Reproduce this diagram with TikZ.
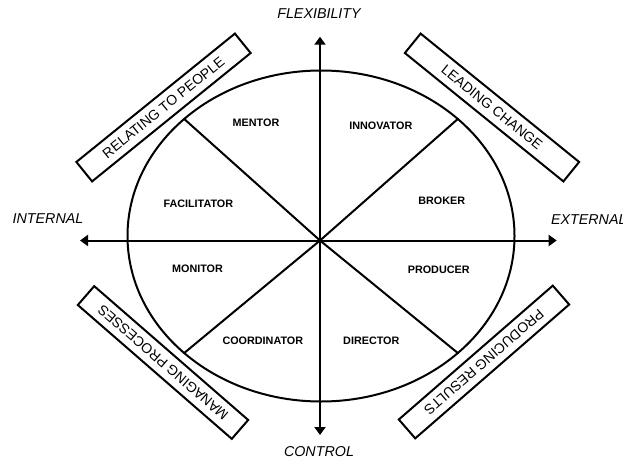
\documentclass[tikz,border=0pt]{standalone}
\usepackage{fontspec}
\setmainfont{Liberation Sans}
\usetikzlibrary{arrows.meta}

\begin{document}
\begin{tikzpicture}[x=1pt,y=1pt,line width=2pt,line cap=round]
	\tikzstyle{axis}=[-{Triangle[length=8pt,width=11pt]}];
	\tikzstyle{pole}=[font=\fontsize{14.3}{17}\selectfont\itshape,inner sep=0pt];
	\tikzstyle{role}=[font=\fontsize{10.8}{13}\selectfont\bfseries,inner sep=0pt];
	\tikzstyle{band}=[draw,line width=2pt,minimum width=204pt,minimum height=25pt,inner sep=0pt,font=\fontsize{14}{17}\selectfont];

	\useasboundingbox (0,0) rectangle (623,459);
	\coordinate (O) at (320,218.5);
	\coordinate (E) at (321,223);
	% axis ends
	\coordinate (up)    at (320,422.3);
	\coordinate (down)  at (320,24);
	\coordinate (left)  at (80,218.5);
	\coordinate (right) at (556.7,218.5);
	% points on the ellipse
	\path (E) ++(45:193.5pt and 165.5pt)  coordinate (ne);
	\path (E) ++(135:193.5pt and 165.5pt) coordinate (nw);
	\path (E) ++(225:193.5pt and 165.5pt) coordinate (sw);
	\path (E) ++(315:193.5pt and 165.5pt) coordinate (se);

	\draw (E) ellipse [x radius=193.5pt,y radius=165.5pt];
	\draw (O) -- (ne);
	\draw (O) -- (nw);
	\draw (O) -- (sw);
	\draw (O) -- (se);
	\draw[axis] (O) -- (up);
	\draw[axis] (O) -- (down);
	\draw[axis] (O) -- (left);
	\draw[axis] (O) -- (right);

	\node[pole] (flex) at (319,445.3) {FLEXIBILITY};
	\node[pole] (ctrl) at (319,7.7)   {CONTROL};
	\node[pole] (int)  at (48,240.3)  {INTERNAL};
	\node[pole,anchor=west] (ext) at (550,239) {EXTERNAL};

	\node[role] (mentor) at (256,335.8)   {MENTOR};
	\node[role] (innov)  at (380.8,333.5) {INNOVATOR};
	\node[role] (facil)  at (198.3,255.5) {FACILITATOR};
	\node[role] (broker) at (441.7,258.2) {BROKER};
	\node[role] (monit)  at (197.5,189.8) {MONITOR};
	\node[role] (prod)   at (438.7,189)   {PRODUCER};
	\node[role] (coord)  at (262.8,117.8) {COORDINATOR};
	\node[role] (direc)  at (371.3,117.8) {DIRECTOR};

	\node[band,rotate=39]   (people)  at (163.5,351.5) {RELATING TO PEOPLE};
	\node[band,rotate=-39]  (change)  at (492,351.5)   {LEADING CHANGE};
	\node[band,rotate=139]  (process) at (163,96.5)    {MANAGING PROCESSES};
	\node[band,rotate=-139] (results) at (484,97)      {PRODUCING RESULTS};
\end{tikzpicture}
\end{document}
